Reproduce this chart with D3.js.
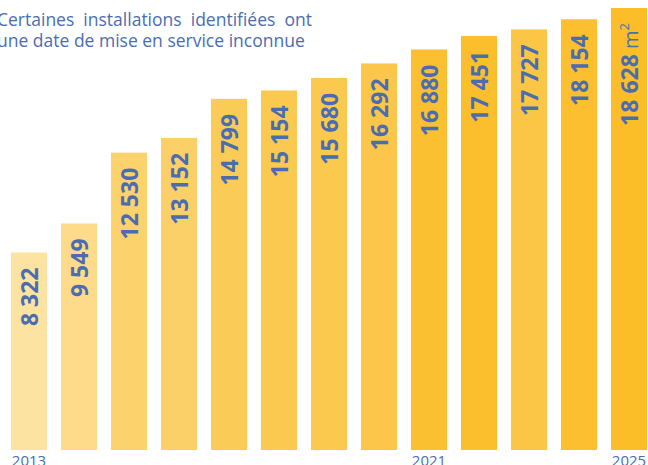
<!DOCTYPE html>
<html>
<head>
<meta charset="utf-8">
<script src="https://cdn.jsdelivr.net/npm/d3@7"></script>
<style>
  body { margin: 0; background: #fff; }
  svg { display: block; font-family: "Open Sans", sans-serif; }
</style>
</head>
<body>
<figure id="bar" style="margin:0"></figure>
<script>
// surface cumulee (m2) par annee
const years = [2013, 2014, 2015, 2016, 2017, 2018, 2019, 2020, 2021, 2022, 2023, 2024, 2025];
const surfaces = [8322, 9549, 12530, 13152, 14799, 15154, 15680, 16292, 16880, 17451, 17727, 18154, 18628];
const shownYears = [2013, 2021, 2025];
const barColors = ["#fde3a1", "#fddb8b", "#fcd26d", "#fcd069", "#fbcb57", "#fbc950", "#fbc94e", "#fbc649",
  "#fbc032", "#fbbf2e", "#fbc646", "#fbbf2f", "#fbbe29"];
const note = ["Certaines  installations  identifiées  ont", "une date de mise en service inconnue"];

const width = 648, height = 465;
const blue = "#4b6db0";

const svg = d3.select("figure#bar")
  .append("svg")
  .attr("width", width)
  .attr("height", height);

const x = d3.scaleBand()
  .domain(years)
  .range([11, 647])
  .paddingInner(0.28)
  .paddingOuter(0);

const y = d3.scaleLinear()
  .domain([0, 18628])
  .range([450, 8]);

// bars
svg.append("g")
  .selectAll("rect")
  .data(years)
  .join("rect")
  .attr("x", d => x(d))
  .attr("y", (d, i) => y(surfaces[i]))
  .attr("width", x.bandwidth())
  .attr("height", (d, i) => y(0) - y(surfaces[i]))
  .attr("fill", (d, i) => barColors[i]);

// values, rotated inside the bars
const fmt = v => d3.format(",")(v).replace(",", " ");
const labels = svg.append("g")
  .selectAll("text")
  .data(years)
  .join("text")
  .attr("transform", (d, i) => `translate(${x(d) + x.bandwidth() / 2 + 9},${y(surfaces[i]) + 15}) rotate(-90)`)
  .attr("text-anchor", "end")
  .attr("fill", blue)
  .attr("font-size", 23)
  .attr("font-weight", 700)
  .attr("xml:space", "preserve");
labels.append("tspan").text((d, i) => fmt(surfaces[i]));
labels.filter((d, i) => i === years.length - 1)
  .call(t => {
    t.append("tspan").attr("font-weight", 400).attr("font-size", 20).text(" m");
    t.append("tspan").attr("font-weight", 400).attr("font-size", 13).attr("dy", -9).text("2");
  });

// year axis (only a few ticks)
const xAxis = svg.append("g")
  .attr("transform", `translate(0,${y(0)})`)
  .call(d3.axisBottom(x).tickValues(shownYears).tickSize(0).tickPadding(5));
xAxis.select(".domain").remove();
xAxis.selectAll("text")
  .attr("fill", blue)
  .attr("font-size", 15)
  .attr("font-family", "Open Sans, sans-serif")
  .attr("dy", "0.71em");

// note
svg.append("text")
  .attr("x", -3)
  .attr("y", 26)
  .attr("fill", blue)
  .attr("font-size", 17.5)
  .selectAll("tspan")
  .data(note)
  .join("tspan")
  .attr("x", -3)
  .attr("dy", (d, i) => i ? 21 : 0)
  .attr("xml:space", "preserve")
  .style("white-space", "pre")
  .text(d => d);
</script>
</body>
</html>
